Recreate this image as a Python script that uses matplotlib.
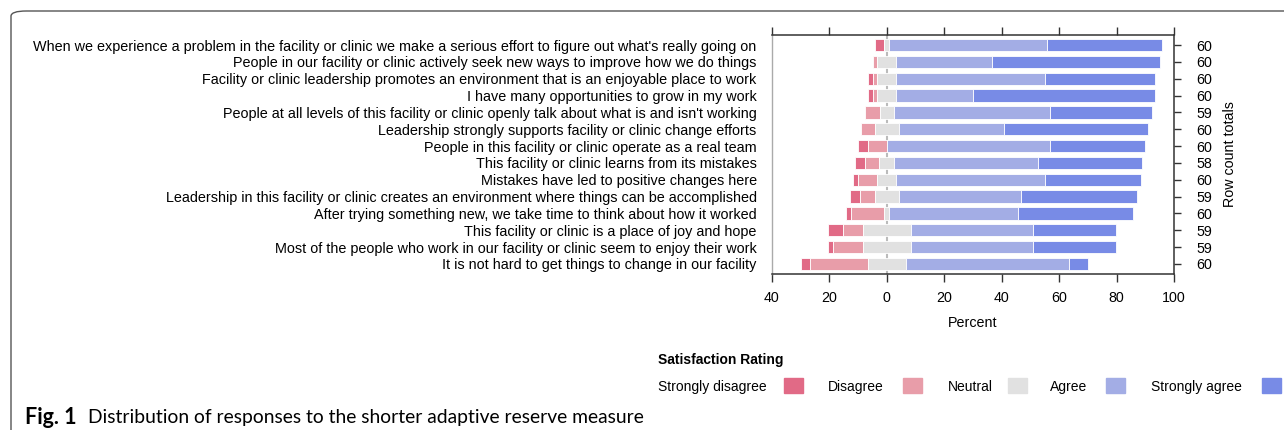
import matplotlib.pyplot as plt
from matplotlib.patches import Rectangle, FancyBboxPatch
from matplotlib.ticker import FuncFormatter
import numpy as np

plt.rcParams['font.family'] = ['Liberation Sans', 'DejaVu Sans']

# questions, top to bottom
questions = [
    "When we experience a problem in the facility or clinic we make a serious effort to figure out what's really going on",
    "People in our facility or clinic actively seek new ways to improve how we do things",
    "Facility or clinic leadership promotes an environment that is an enjoyable place to work",
    "I have many opportunities to grow in my work",
    "People at all levels of this facility or clinic openly talk about what is and isn't working",
    "Leadership strongly supports facility or clinic change efforts",
    "People in this facility or clinic operate as a real team",
    "This facility or clinic learns from its mistakes",
    "Mistakes have led to positive changes here",
    "Leadership in this facility or clinic creates an environment where things can be accomplished",
    "After trying something new, we take time to think about how it worked",
    "This facility or clinic is a place of joy and hope",
    "Most of the people who work in our facility or clinic seem to enjoy their work",
    "It is not hard to get things to change in our facility",
]

# response counts per question
strongly_disagree = [2, 0, 1, 1, 0, 0, 2, 2, 1, 2, 1, 3, 1, 2]
disagree          = [0, 1, 1, 1, 3, 3, 4, 3, 4, 3, 7, 4, 6, 12]
neutral           = [1, 4, 4, 4, 3, 5, 0, 3, 4, 5, 1, 10, 10, 8]
agree             = [33, 20, 31, 16, 32, 22, 34, 29, 31, 25, 27, 25, 25, 34]
strongly_agree    = [24, 35, 23, 38, 21, 30, 20, 21, 20, 24, 24, 17, 17, 4]

levels = ["Strongly disagree", "Disagree", "Neutral", "Agree", "Strongly agree"]
colors = ["#E16A86", "#E89DA9", "#E1E1E1", "#A3ADE5", "#788BE6"]

counts = np.array([strongly_disagree, disagree, neutral, agree, strongly_agree], dtype=float)
totals = counts.sum(axis=0).astype(int)
pct = counts / totals * 100

n = len(questions)
y = np.arange(n)[::-1]

W, H = 1284, 430
fig = plt.figure(figsize=(W / 100, H / 100), dpi=100)
ax = fig.add_axes([772 / W, 1 - 274 / H, (1174 - 772) / W, (274 - 35) / H])

ax.axvline(0, color="#BBBBBB", lw=1.5, zorder=0)

left = -(pct[0] + pct[1] + pct[2] / 2)
for k in range(5):
    ax.barh(y, pct[k], left=left, height=0.74, color=colors[k],
            edgecolor="white", linewidth=0.6, zorder=2)
    left = left + pct[k]

ax.set_xlim(-40, 100)
ax.set_ylim(-0.6, n - 0.4)
ax.set_xticks(range(-40, 101, 20))
ax.xaxis.set_major_formatter(FuncFormatter(lambda v, p: "%d" % abs(v)))
ax.tick_params(axis="x", which="both", top=True, direction="out", length=6,
               width=1, labelsize=10.3, pad=6, color="#333333")
ax.set_yticks(y)
ax.set_yticklabels(questions, fontsize=10.4)
ax.tick_params(axis="y", length=0, pad=11)
ax.set_xlabel("Percent", fontsize=10.3, labelpad=8)

for s in ["top", "bottom", "right"]:
    ax.spines[s].set_color("#333333")
    ax.spines[s].set_linewidth(1.1)
ax.spines["left"].set_color("#AAAAAA")
ax.spines["left"].set_linewidth(1)

ax2 = ax.twinx()
ax2.set_ylim(ax.get_ylim())
ax2.set_yticks(y)
ax2.set_yticklabels([str(t) for t in totals], fontsize=10.3)
ax2.tick_params(axis="y", direction="out", length=5, width=1, pad=11, color="#333333")
ax2.set_ylabel("Row count totals", fontsize=10.3, labelpad=8)
for s in ax2.spines.values():
    s.set_visible(False)

# legend
def fx(px):
    return px / W

def fy(py):
    return 1 - py / H

fig.text(fx(658), fy(360), "Satisfaction Rating", fontsize=10, fontweight="bold", va="center")
text_x = [658, 828, 948, 1050, 1151]
box_x = [784, 903, 1008, 1106, 1262]
for lab, c, tx, bx in zip(levels, colors, text_x, box_x):
    fig.text(fx(tx), fy(387), lab, fontsize=10, va="center")
    fig.add_artist(Rectangle((fx(bx), fy(393)), 19 / W, 15 / H, color=c,
                             transform=fig.transFigure))

# caption and frame
fig.add_artist(FancyBboxPatch((fx(11), fy(460)), (1400 - 11) / W, 449 / H,
                              boxstyle="round,pad=0,rounding_size=0.012",
                              transform=fig.transFigure, fill=False,
                              edgecolor="#555555", lw=1))
fig.text(fx(25), fy(417), "Fig. 1", fontsize=15.5, fontweight="bold",
         family="Lato", va="center")
fig.text(fx(88), fy(417), "Distribution of responses to the shorter adaptive reserve measure",
         fontsize=13.9, family="Lato", va="center")

fig.savefig("out.png", dpi=100)
